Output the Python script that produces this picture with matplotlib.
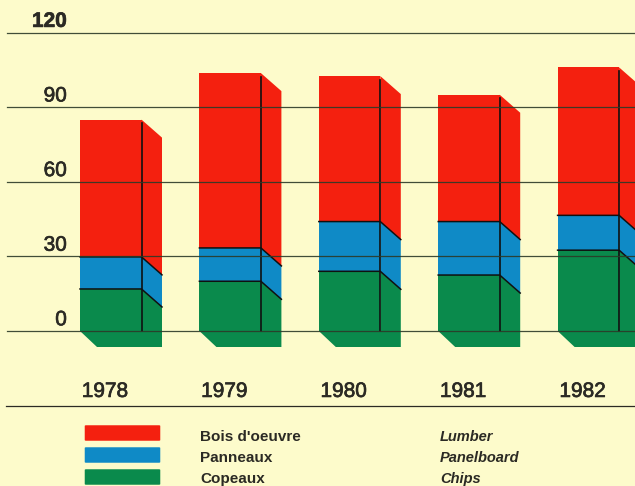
import matplotlib
matplotlib.use('Agg')
import matplotlib.pyplot as plt
import matplotlib.patheffects as pe
from matplotlib.patches import FancyBboxPatch

years = [1978, 1979, 1980, 1981, 1982]
chips = [16.9, 20.0, 24.0, 22.5, 32.5]
panelboard = [12.9, 13.4, 20.0, 21.5, 14.0]
lumber = [55.2, 70.3, 58.5, 51.0, 59.5]
yticks = [0, 30, 60, 90, 120]
names_fr = ["Bois d'oeuvre", "Panneaux", "Copeaux"]
names_en = ["Lumber", "Panelboard", "Chips"]

RED = '#f4200f'
BLUE = '#0f8ac6'
GREEN = '#0a8a4c'
BG = '#fdfbcb'
INK = '#2b2a24'

W, H = 635, 486
plt.rcParams['font.family'] = ['Liberation Sans', 'DejaVu Sans']

fig = plt.figure(figsize=(W / 100, H / 100), dpi=100, facecolor=BG)
ax = fig.add_axes([0, 0, 1, 1])
ax.axis('off')

# one year is 119.4 px, one unit is 2.487 px
px_x = 119.4
px_y = 2.487
ax.set_xlim(1978 - 80 / px_x, 1978 + (W - 80) / px_x)
ax.set_ylim(-(H - 331) / px_y, 331 / px_y)

front = 61.5 / px_x
side = 20.5 / px_x
drop = 18 / px_y
under_x = 17 / px_x
under_y = 16 / px_y
heavy = [pe.withStroke(linewidth=0.5, foreground=INK)]


def px(x, y):
    return x / W, 1 - y / H


for i, year in enumerate(years):
    x0 = year
    x1 = year + front
    x2 = x1 + side
    base = 0
    for val, col in zip([chips[i], panelboard[i], lumber[i]], [GREEN, BLUE, RED]):
        top = base + val
        low = base - drop if base > 0 else 0
        ax.fill([x0, x1, x1, x0], [base, base, top, top], color=col, lw=0, zorder=2)
        ax.fill([x1, x2, x2, x1], [base, low, top - drop, top], color=col, lw=0, zorder=2)
        # lines between the stacked parts
        if col != RED:
            ax.plot([x0, x1, x2], [top, top, top - drop], color='#101010', lw=1.1, zorder=3)
        base = top
    # underside
    ax.fill([x0, x0 + under_x, x2, x2], [0, -under_y, -under_y, 0], color=GREEN, lw=0, zorder=2)
    # vertical edge
    ax.plot([x1, x1], [0, base - 1.5], color='#101010', lw=1.2, zorder=3)
    ax.text(year + 25 / px_x, -24.3, str(year), ha='center', va='center', fontsize=15,
            color=INK, zorder=4, path_effects=heavy)

for t in yticks:
    ax.plot([7 / W, 1], [t, t], transform=ax.get_yaxis_transform(), color='#2c3a28',
            lw=0.9, zorder=3, alpha=0.9)
    ax.text(67 / W, t + 4.5, str(t), transform=ax.get_yaxis_transform(), ha='right', va='center',
            fontsize=15, color=INK, fontweight='bold' if t == 120 else 'normal', zorder=4,
            path_effects=heavy)

# rule under the years
ax.plot([6 / W, 1], [px(0, 406)[1]] * 2, transform=ax.transAxes, color='#2b2a24', lw=0.9)

# legend
for k, col in enumerate([RED, BLUE, GREEN]):
    y = 425 + k * 22
    x_a, y_a = px(86, y + 15)
    ax.add_patch(FancyBboxPatch((x_a, y_a), 73 / W, 14 / H, boxstyle='round,pad=0.002',
                                transform=ax.transAxes, fc=col, ec='none', mutation_aspect=H / W))
    ty = 437 + k * 21
    ax.text(*px(200, ty), names_fr[k], transform=ax.transAxes, ha='left', va='center',
            fontsize=11, fontweight='bold', color=INK)
    ax.text(*px(440, ty), names_en[k], transform=ax.transAxes, ha='left', va='center',
            fontsize=10.5, fontweight='bold', fontstyle='italic', color=INK)

fig.savefig('out.png', dpi=100, facecolor=BG)
